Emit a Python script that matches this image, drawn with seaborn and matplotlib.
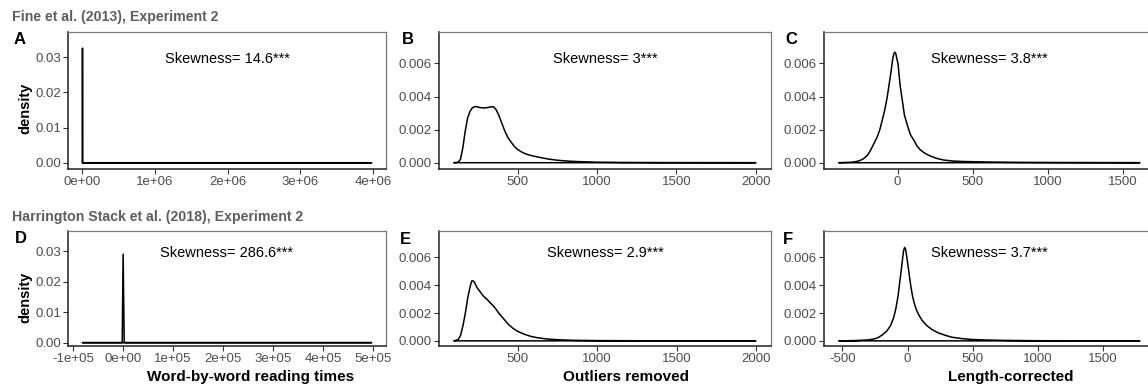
import numpy as np
import pandas as pd
import matplotlib
matplotlib.use("Agg")
import matplotlib.pyplot as plt
import seaborn as sns

# ---- density curves (x grid, density) for each panel ----
a_x = [0, 400, 1500, 3.98e6]
a_y = [0.0, 0.0326, 0.0, 0.0]

b_x = [100, 125, 140, 155, 170, 185, 200, 215, 235, 255, 280, 310, 335, 350, 365, 380, 400,
       420, 440, 460, 480, 500, 530, 560, 600, 650, 700, 760, 830, 900, 1000, 1150, 1400, 2000]
b_y = [0.0, 0.00003, 0.0002, 0.0009, 0.0019, 0.0027, 0.0031, 0.00332, 0.0034, 0.00335,
       0.00331, 0.00333, 0.00338, 0.00337, 0.0032, 0.0029, 0.0024, 0.0019, 0.0015, 0.00123,
       0.00098, 0.0008, 0.00062, 0.0005, 0.0004, 0.0003, 0.00021, 0.00014, 0.00009, 0.00006,
       0.00003, 0.000015, 0.000005, 0.0]

c_x = [-389, -300, -260, -230, -200, -179, -155, -135, -118, -102, -85, -69, -55, -42, -32,
       -24, -18, -12, -5, 3, 9, 18, 31, 45, 64, 85, 108, 130, 153, 185, 219, 260, 308, 370,
       450, 600, 800, 1100, 1611]
c_y = [0.0, 0.00003, 0.0001, 0.00022, 0.00045, 0.00076, 0.0012, 0.00156, 0.002, 0.00256,
       0.0032, 0.00396, 0.0048, 0.0056, 0.0063, 0.0066, 0.00668, 0.0066, 0.0063, 0.006,
       0.0054, 0.0046, 0.0038, 0.0029, 0.0023, 0.0017, 0.00136, 0.001, 0.00076, 0.00055,
       0.0004, 0.00026, 0.00016, 0.0001, 0.00007, 0.00004, 0.00002, 0.00001, 0.0]

d_x = [-81000, -1500, 300, 2500, 497000]
d_y = [0.0, 0.0, 0.029, 0.0, 0.0]

e_x = [99, 125, 140, 155, 170, 185, 200, 210, 218, 228, 245, 265, 285, 305, 330, 355, 380,
       410, 440, 470, 500, 540, 580, 620, 680, 750, 850, 1000, 1300, 2000]
e_y = [0.0, 0.0001, 0.0004, 0.0011, 0.002, 0.0031, 0.0039, 0.0043, 0.00432, 0.0042, 0.0038,
       0.0035, 0.0032, 0.003, 0.0027, 0.0024, 0.002, 0.0016, 0.0012, 0.0009, 0.00068,
       0.00048, 0.00033, 0.00023, 0.00014, 0.00008, 0.00004, 0.00002, 0.000005, 0.0]

f_x = [-526, -400, -300, -250, -221, -190, -157, -130, -106, -90, -73, -60, -48, -38, -30,
       -22, -15, -8, -2, 4, 14, 26, 39, 55, 70, 85, 110, 149, 190, 238, 290, 341, 420, 494,
       600, 775, 1000, 1786]
f_y = [0.0, 0.00002, 0.00007, 0.00015, 0.00026, 0.00045, 0.00073, 0.0011, 0.00168, 0.0023,
       0.0032, 0.0042, 0.0051, 0.0059, 0.0065, 0.00672, 0.0066, 0.0062, 0.0058, 0.0054,
       0.0047, 0.0039, 0.0032, 0.0026, 0.0022, 0.0019, 0.0015, 0.00109, 0.0008, 0.00057,
       0.0004, 0.00026, 0.00016, 0.0001, 0.00006, 0.00003, 0.00001, 0.0]

panel_letters = ["A", "B", "C", "D", "E", "F"]
skewness_labels = ["Skewness= 14.6***", "Skewness= 3***", "Skewness= 3.8***",
                   "Skewness= 286.6***", "Skewness= 2.9***", "Skewness= 3.7***"]
row_titles = ["Fine et al. (2013), Experiment 2", "Harrington Stack et al. (2018), Experiment 2"]
x_titles = ["Word-by-word reading times", "Outliers removed", "Length-corrected"]

a_ticks = [0, 1e6, 2e6, 3e6, 4e6]
a_ticklabels = ["0e+00", "1e+06", "2e+06", "3e+06", "4e+06"]
d_ticks = [-1e5, 0, 1e5, 2e5, 3e5, 4e5, 5e5]
d_ticklabels = ["-1e+05", "0e+00", "1e+05", "2e+05", "3e+05", "4e+05", "5e+05"]
b_ticks = [500, 1000, 1500, 2000]
c_ticks = [0, 500, 1000, 1500]
f_ticks = [-500, 0, 500, 1000, 1500]
y_ticks_big = [0.00, 0.01, 0.02, 0.03]
y_ticks_small = [0.000, 0.002, 0.004, 0.006]

# ---- styling ----
sns.set_theme(style="white")
plt.rcParams["font.family"] = ["Liberation Sans", "DejaVu Sans"]

W, H = 1148, 385
fig = plt.figure(figsize=(W / 100, H / 100), dpi=100)

def px_rect(left, top, right, bottom):
    return [left / W, 1 - bottom / H, (right - left) / W, (bottom - top) / H]

cols = [(68, 386), (439, 771), (824, 1155)]
rows = [(32, 169), (231, 346)]

curves = [(a_x, a_y), (b_x, b_y), (c_x, c_y), (d_x, d_y), (e_x, e_y), (f_x, f_y)]
xticks = [(a_ticks, a_ticklabels), (b_ticks, None), (c_ticks, None),
          (d_ticks, d_ticklabels), (b_ticks, None), (f_ticks, None)]
yticks = [y_ticks_big, y_ticks_small, y_ticks_small, y_ticks_big, y_ticks_small, y_ticks_small]
ylims = [(-0.00178, 0.0372), (-0.00038, 0.0079), (-0.00038, 0.0079),
         (-0.0011, 0.0366), (-0.00037, 0.0079), (-0.00037, 0.0079)]
ylabels_fmt = ["{:.2f}", "{:.3f}", "{:.3f}", "{:.2f}", "{:.3f}", "{:.3f}"]

tick_gray = "#4d4d4d"

for i, (xs, ys) in enumerate(curves):
    r, c = divmod(i, 3)
    ax = fig.add_axes(px_rect(cols[c][0], rows[r][0], cols[c][1], rows[r][1]))
    xs = np.asarray(xs, float)
    ys = np.asarray(ys, float)
    # closed outline: curve plus its baseline back to the start
    df = pd.DataFrame({"x": np.r_[xs, xs[0]], "y": np.r_[ys, ys[0]]})
    sns.lineplot(data=df, x="x", y="y", sort=False, estimator=None, ax=ax,
                 color="black", linewidth=1.1)
    span = xs.max() - xs.min()
    ax.set_xlim(xs.min() - 0.05 * span, xs.max() + 0.05 * span)
    ax.set_ylim(*ylims[i])

    tk, tl = xticks[i]
    ax.set_xticks(tk)
    ax.set_xticklabels(tl if tl is not None else [f"{t:g}" for t in tk])
    ax.set_yticks(yticks[i])
    ax.set_yticklabels([ylabels_fmt[i].format(t) for t in yticks[i]])
    ax.set_xlabel("")
    ax.set_ylabel("")
    ax.tick_params(axis="both", which="both", direction="out", length=3.5, width=0.8,
                   color="#333333", labelsize=9.5, labelcolor=tick_gray, pad=1.5,
                   bottom=True, left=True)
    for side in ["top", "right"]:
        ax.spines[side].set_color("#7a7a7a")
        ax.spines[side].set_linewidth(0.9)
    for side in ["left", "bottom"]:
        ax.spines[side].set_color("#222222")
        ax.spines[side].set_linewidth(1.1)
    ax.grid(False)

    ax.text(0.5, 0.775, skewness_labels[i], transform=ax.transAxes,
            ha="center", va="baseline", fontsize=10.5, color="black")

# panel letters
letter_pos = [(14, 44), (402, 44), (785, 44), (15, 243), (400, 244), (783, 244)]
for lab, (lx, ly) in zip(panel_letters, letter_pos):
    fig.text(lx / W, 1 - ly / H, lab, ha="left", va="baseline",
             fontsize=12, fontweight="bold", color="black")

# row titles
for t, by in zip(row_titles, [21.5, 220.5]):
    fig.text(12 / W, 1 - by / H, t, ha="left", va="baseline",
             fontsize=10.2, fontweight="bold", color="#5e5e5e")

# y-axis titles
for cy in [108, 297]:
    fig.text(25 / W, 1 - cy / H, "density", rotation=90, ha="center", va="center",
             fontsize=10.5, fontweight="bold", color="black")

# x-axis titles
for t, cx in zip(x_titles, [251, 626, 1011]):
    fig.text(cx / W, 1 - 381 / H, t, ha="center", va="baseline",
             fontsize=11, fontweight="bold", color="black")

fig.savefig("out.png", dpi=100)
